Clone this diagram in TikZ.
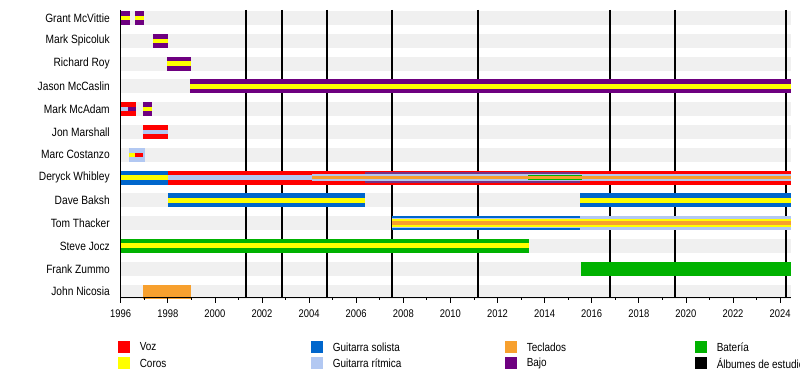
\documentclass[tikz,border=0pt]{standalone}
\usepackage{fontspec}
\setmainfont{Liberation Sans}[FakeStretch=0.85]
\definecolor{cVoz}{RGB}{255,0,0}
\definecolor{cCoros}{RGB}{255,255,0}
\definecolor{cSolista}{RGB}{0,102,204}
\definecolor{cRitmica}{RGB}{178,200,242}
\definecolor{cTeclados}{RGB}{247,160,46}
\definecolor{cBajo}{RGB}{110,0,128}
\definecolor{cBateria}{RGB}{0,178,0}
\definecolor{cBand}{RGB}{240,240,240}
\definecolor{cMix}{RGB}{120,50,130}
\newcommand\XY[1]{120.7+23.55*(#1-1996)}
\newcommand\tbar[5]{\fill[#5] ({\XY{#1}},{18+22.8*#3-#4/2}) rectangle ({\XY{#2}},{18+22.8*#3+#4/2});}
\def\E{2024.46}
\tikzset{
  lbl/.style={anchor=east, inner sep=0pt, font=\fontsize{9}{9}\selectfont},
  yrlbl/.style={inner sep=0pt, font=\fontsize{8.3}{8.3}\selectfont},
  leg/.style={anchor=west, inner sep=0pt, font=\fontsize{8.8}{8.8}\selectfont},
  album/.style={line width=1.5pt, black},
}
\begin{document}
\begin{tikzpicture}[x=0.75pt, y=-0.75pt]
\useasboundingbox[fill=white] (0,0) rectangle (800,388);
% grey row bands
\foreach \r in {0,...,12} {
  \fill[cBand] (120.7,{18+22.8*\r-7}) rectangle (791,{18+22.8*\r+7});
}
% album lines
\foreach \a in {2001.32,2002.84,2004.75,2007.5,2011.19,2016.78,2019.54,2024.25} {
  \draw[album] ({\XY{\a}},10) -- ({\XY{\a}},297.7);
}
% row 0 Grant McVittie
\tbar{1996}{1996.4}{0}{14}{cBajo}\tbar{1996}{1996.4}{0}{4.5}{cCoros}
\tbar{1996.61}{1996.99}{0}{14}{cBajo}\tbar{1996.61}{1996.99}{0}{4.5}{cCoros}
% row 1 Mark Spicoluk
\tbar{1997.36}{1998.02}{1}{14}{cBajo}\tbar{1997.36}{1998.02}{1}{4.5}{cCoros}
% row 2 Richard Roy
\tbar{1997.95}{1998.99}{2}{14}{cBajo}\tbar{1997.95}{1998.99}{2}{4.5}{cCoros}
% row 3 Jason McCaslin
\tbar{1998.94}{\E}{3}{14}{cBajo}\tbar{1998.94}{\E}{3}{4.5}{cCoros}
% row 4 Mark McAdam
\tbar{1996}{1996.65}{4}{14}{cVoz}\tbar{1996}{1996.31}{4}{4.5}{cRitmica}\tbar{1996.31}{1996.65}{4}{4.5}{cBajo}
\tbar{1996.96}{1997.32}{4}{14}{cBajo}\tbar{1996.96}{1997.32}{4}{4.5}{cCoros}
% row 5 Jon Marshall
\tbar{1996.96}{1998.0}{5}{14}{cVoz}\tbar{1996.96}{1998.0}{5}{4}{cRitmica}
% row 6 Marc Costanzo
\tbar{1996.35}{1997.03}{6}{14}{cRitmica}\tbar{1996.35}{1996.61}{6}{4.5}{cCoros}\tbar{1996.61}{1996.96}{6}{4.5}{cVoz}
% row 7 Deryck Whibley
\tbar{1996}{1998}{7}{14}{cSolista}\tbar{1996}{1998}{7}{4.5}{cCoros}
\tbar{1998}{\E}{7}{14}{cVoz}
\tbar{2006.37}{2015.5}{7}{10.5}{cMix}
\tbar{1998}{2004.14}{7}{4.5}{cRitmica}
\tbar{2004.14}{\E}{7}{7.5}{cRitmica}
\tbar{2013.31}{2015.57}{7}{5}{cBateria}
\tbar{2004.14}{\E}{7}{3.2}{cTeclados}
% row 8 Dave Baksh
\tbar{1998}{2006.37}{8}{14}{cSolista}\tbar{1998}{2006.37}{8}{5}{cCoros}
\tbar{2015.5}{\E}{8}{14}{cSolista}\tbar{2015.5}{\E}{8}{5}{cCoros}
% row 9 Tom Thacker
\tbar{2007.51}{2015.5}{9}{14}{cSolista}\tbar{2015.5}{\E}{9}{14}{cRitmica}
\tbar{2007.51}{\E}{9}{10}{cRitmica}
\tbar{2007.51}{\E}{9}{8}{cCoros}\tbar{2007.51}{\E}{9}{4}{cTeclados}
% row 10 Steve Jocz
\tbar{1996}{2013.35}{10}{14}{cBateria}\tbar{1996}{2013.35}{10}{5}{cCoros}
% row 11 Frank Zummo
\tbar{2015.55}{\E}{11}{14}{cBateria}
% row 12 John Nicosia
\tbar{1996.96}{1998.99}{12}{14}{cTeclados}
% axes
\draw[line width=0.75pt] (120.7,10) -- (120.7,297.7) -- (791,297.7);
\foreach \yr in {1997,1999,...,2023} {\draw[line width=0.6pt] ({\XY{\yr}},297.7) -- ({\XY{\yr}},300.5);}
\foreach \yr in {1996,1998,...,2024} {
  \draw[line width=0.6pt] ({\XY{\yr}},297.7) -- ({\XY{\yr}},303);
  \node[yrlbl] (y\yr) at ({\XY{\yr}},313.5) {\yr};
}
% row labels
\foreach \n [count=\r from 0] in {Grant McVittie,Mark Spicoluk,Richard Roy,Jason McCaslin,Mark McAdam,Jon Marshall,Marc Costanzo,Deryck Whibley,Dave Baksh,Tom Thacker,Steve Jocz,Frank Zummo,John Nicosia} {
  \node[lbl] (m\r) at (110,{18+22.8*\r}) {\n};
}
% legend
\fill[cVoz] (118,341) rectangle (130,353); \node[leg] (lg1) at (139.5,347) {Voz};
\fill[cCoros] (118,357) rectangle (130,369); \node[leg] (lg2) at (139.5,363.5) {Coros};
\fill[cSolista] (311,341) rectangle (323,353); \node[leg] (lg3) at (332.5,347) {Guitarra solista};
\fill[cRitmica] (311,357) rectangle (323,369); \node[leg] (lg4) at (332.5,363.5) {Guitarra rítmica};
\fill[cTeclados] (505,341) rectangle (517,353); \node[leg] (lg5) at (526.5,347) {Teclados};
\fill[cBajo] (505,357) rectangle (517,369); \node[leg] (lg6) at (526.5,363.5) {Bajo};
\fill[cBateria] (695,341) rectangle (707,353); \node[leg] (lg7) at (716.5,347) {Batería};
\fill[black] (695,357) rectangle (707,369); \node[leg] (lg8) at (716.5,363.5) {Álbumes de estudio};
\end{tikzpicture}
\end{document}
